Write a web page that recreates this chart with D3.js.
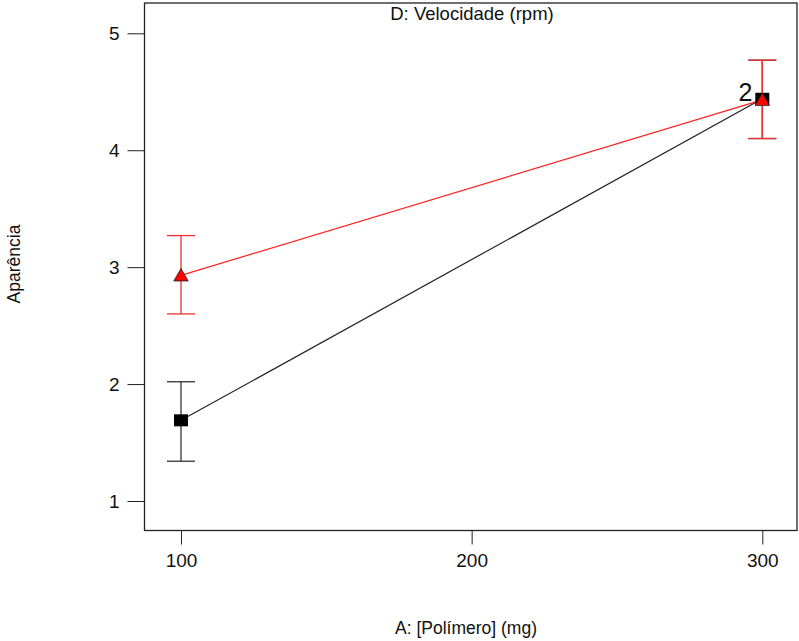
<!DOCTYPE html>
<html>
<head>
<meta charset="utf-8">
<script src="https://cdn.jsdelivr.net/npm/d3@7"></script>
<style>
  html, body { margin: 0; padding: 0; background: #fff; }
  svg { display: block; font-family: Arial, "Liberation Sans", sans-serif; }
</style>
</head>
<body>
<svg id="chart" width="799" height="641"></svg>
<script>
// Factor A levels (mg)
const polymerLevels = [100, 300];
// D low (black squares) and D high (red triangles)
const lowMeans = [1.69, 4.44];
const lowLower = [1.34, 4.10];
const lowUpper = [2.02, 4.77];
const highMeans = [2.93, 4.43];
const highLower = [2.60, 4.10];
const highUpper = [3.27, 4.77];
const yTicks = [1, 2, 3, 4, 5];
const xTicks = [100, 200, 300];

const svg = d3.select("#chart");
const box = { left: 144.5, right: 797, top: 3, bottom: 530.5 };

const x = d3.scaleLinear().domain([100, 300]).range([181, 762.3]);
const y = d3.scaleLinear().domain([1, 5]).range([501, 33.3]);

// frame
svg.append("rect")
  .attr("x", box.left).attr("y", box.top)
  .attr("width", box.right - box.left).attr("height", box.bottom - box.top)
  .attr("fill", "none").attr("stroke", "#222").attr("stroke-width", 1.3);

// axes
const yAxis = d3.axisLeft(y).tickValues(yTicks).tickSize(17).tickPadding(8).tickFormat(d3.format("d"));
const gy = svg.append("g").attr("transform", `translate(${box.left},0)`).call(yAxis);
gy.select(".domain").remove();
gy.selectAll("line").attr("stroke", "#222");
gy.selectAll("text").attr("font-size", 19).attr("fill", "#111");

const xAxis = d3.axisBottom(x).tickValues(xTicks).tickSize(14).tickPadding(9).tickFormat(d3.format("d"));
const gx = svg.append("g").attr("transform", `translate(0,${box.bottom})`).call(xAxis);
gx.select(".domain").remove();
gx.selectAll("line").attr("stroke", "#222");
gx.selectAll("text").attr("font-size", 19).attr("fill", "#111");

// titles
svg.append("text").attr("x", 472).attr("y", 20).attr("text-anchor", "middle")
  .attr("font-size", 18.5).attr("fill", "#111").text("D: Velocidade (rpm)");
svg.append("text").attr("x", 466).attr("y", 634).attr("text-anchor", "middle")
  .attr("font-size", 17.5).attr("fill", "#111").text("A: [Polímero] (mg)");
svg.append("text").attr("transform", "translate(20,264) rotate(-90)").attr("text-anchor", "middle")
  .attr("font-size", 17.5).attr("fill", "#111").text("Aparência");

const line = d3.line().x((d, i) => x(polymerLevels[i])).y(d => y(d));

function errorBars(lower, upper, color) {
  const g = svg.append("g").attr("stroke", color).attr("stroke-width", 1.3);
  polymerLevels.forEach((lv, i) => {
    g.append("line").attr("x1", x(lv)).attr("x2", x(lv)).attr("y1", y(lower[i])).attr("y2", y(upper[i]));
    [lower[i], upper[i]].forEach(v => {
      g.append("line").attr("x1", x(lv) - 14).attr("x2", x(lv) + 14).attr("y1", y(v)).attr("y2", y(v));
    });
  });
}

errorBars(lowLower, lowUpper, "#333");
errorBars(highLower, highUpper, "#f03030");

svg.append("path").datum(lowMeans).attr("d", line).attr("fill", "none").attr("stroke", "#222").attr("stroke-width", 1.2);
svg.append("path").datum(highMeans).attr("d", line).attr("fill", "none").attr("stroke", "#ff2020").attr("stroke-width", 1.2);

// black squares
svg.selectAll(".sq").data(lowMeans).enter().append("rect")
  .attr("x", (d, i) => x(polymerLevels[i]) - 7).attr("y", d => y(d) - 6)
  .attr("width", 14).attr("height", 12).attr("fill", "#000");

// red triangles
const tri = d3.symbol().type(d3.symbolTriangle).size(90);
svg.selectAll(".tri").data(highMeans).enter().append("path")
  .attr("d", tri)
  .attr("transform", (d, i) => `translate(${x(polymerLevels[i])},${y(d) + 1.5})`)
  .attr("fill", "#ff0000").attr("stroke", "#222").attr("stroke-width", 0.8);

// replicate count at A = 300
svg.append("text").attr("x", x(300) - 10).attr("y", y(lowMeans[1]) + 2)
  .attr("text-anchor", "end").attr("font-size", 25).attr("fill", "#111").text("2");
</script>
</body>
</html>
